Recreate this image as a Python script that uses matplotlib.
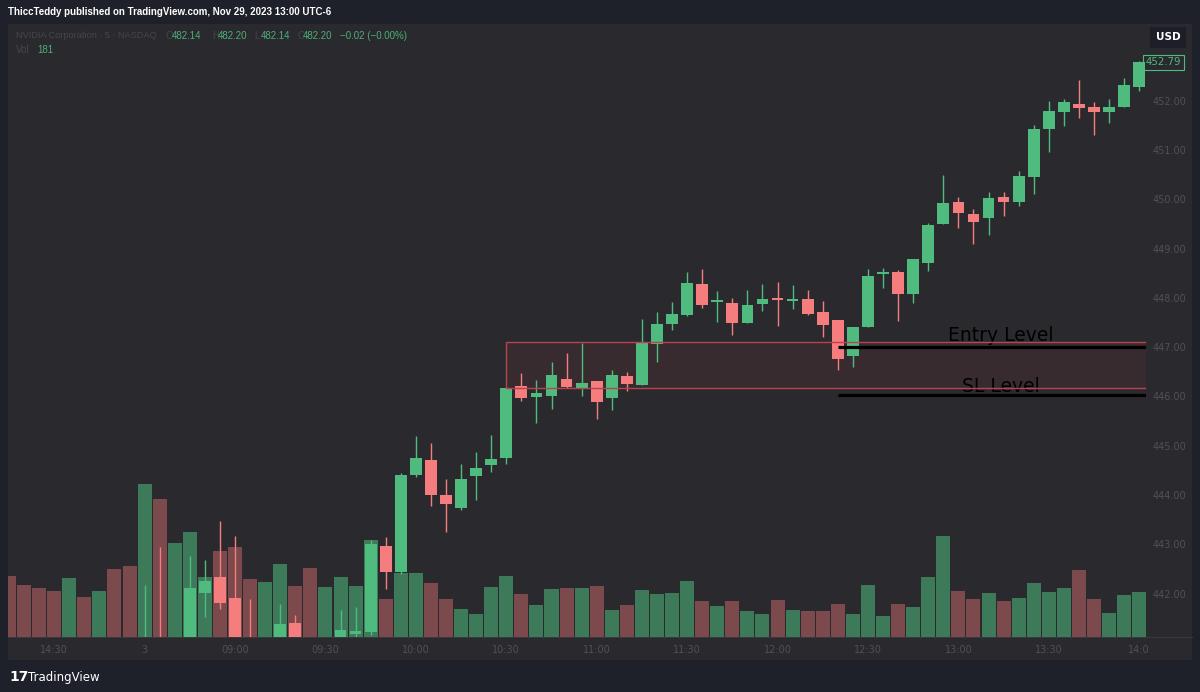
import matplotlib
matplotlib.use("Agg")
import matplotlib.pyplot as plt
from matplotlib.patches import Rectangle
import matplotlib.transforms as mtransforms

# 5 min NVDA bars (bars 0-11 mostly sit below the visible range)
open_ = [440.2, 440.0, 439.8, 439.6, 439.4, 439.8, 439.5, 439.8, 439.4, 439.6,
         440.8, 440.4, 440.9, 442.01, 442.34, 441.90, 440.9, 440.6, 440.9, 441.41,
         440.9, 440.7, 440.95, 441.18, 441.22, 442.97, 442.43, 444.41, 444.72, 444.01,
         443.74, 444.39, 444.60, 444.75, 446.21, 445.99, 446.02, 446.36, 446.16, 446.31,
         445.97, 446.41, 446.24, 447.07, 447.48, 447.65, 448.29, 447.92, 447.89, 447.50,
         447.88, 447.99, 447.94, 447.98, 447.72, 447.56, 446.82, 447.42, 448.49, 448.52,
         448.08, 448.72, 449.50, 449.95, 449.71, 449.62, 450.06, 449.95, 450.46, 451.44,
         451.78, 451.94, 451.87, 451.77, 451.87, 452.29]
high = [440.4, 440.2, 440.0, 439.8, 439.9, 439.9, 439.9, 439.9, 439.6, 442.18,
        442.95, 441.0, 442.77, 442.68, 443.47, 443.17, 441.88, 441.0, 441.78, 441.56,
        441.05, 441.0, 441.67, 441.72, 443.08, 443.15, 444.45, 445.19, 445.06, 444.33,
        444.63, 444.87, 445.22, 446.20, 446.48, 446.34, 446.71, 446.89, 447.09, 446.32,
        446.53, 446.49, 447.57, 447.71, 447.91, 448.53, 448.59, 448.15, 448.00, 448.17,
        448.29, 448.32, 448.27, 448.17, 447.93, 447.56, 447.42, 448.59, 448.61, 448.57,
        448.79, 449.52, 450.50, 450.06, 449.80, 450.15, 450.15, 450.57, 451.51, 451.99,
        452.05, 452.43, 451.97, 452.05, 452.46, 452.81]
low = [439.9, 439.7, 439.5, 439.3, 439.3, 439.4, 439.4, 439.3, 439.0, 439.4,
       440.2, 440.1, 440.8, 441.52, 441.69, 440.6, 440.4, 440.3, 440.7, 440.7,
       440.5, 440.5, 440.8, 441.0, 441.15, 442.10, 442.40, 444.37, 443.77, 443.24,
       443.70, 443.89, 444.46, 444.63, 445.91, 445.46, 445.75, 446.17, 446.00, 445.55,
       445.73, 446.12, 446.24, 446.71, 447.35, 447.64, 447.79, 447.52, 447.25, 447.50,
       447.73, 447.44, 447.78, 447.65, 447.21, 446.53, 446.60, 447.42, 448.20, 447.54,
       447.90, 448.54, 449.50, 449.43, 449.09, 449.28, 449.67, 449.86, 450.11, 450.97,
       451.49, 451.66, 451.30, 451.55, 451.87, 452.21]
close = [440.0, 439.8, 439.6, 439.4, 439.8, 439.5, 439.8, 439.4, 439.2, 440.8,
         440.4, 440.9, 442.12, 442.26, 441.80, 440.8, 440.6, 440.9, 441.38, 440.9,
         440.7, 440.95, 441.25, 441.23, 443.00, 442.44, 444.40, 444.75, 444.01, 443.81,
         444.32, 444.55, 444.74, 446.17, 445.97, 446.08, 446.43, 446.19, 446.27, 445.88,
         446.44, 446.26, 447.08, 447.48, 447.68, 448.31, 447.86, 447.95, 447.50, 447.86,
         447.98, 447.96, 447.97, 447.68, 447.46, 446.77, 447.42, 448.45, 448.52, 448.08,
         448.79, 449.48, 449.93, 449.72, 449.55, 450.04, 449.95, 450.47, 451.44, 451.80,
         451.97, 451.85, 451.77, 451.87, 452.32, 452.79]
volume = [6.1, 5.2, 4.9, 4.6, 5.9, 4.0, 4.6, 6.8, 7.1, 15.3,
          13.8, 9.4, 10.5, 6.0, 8.6, 9.0, 5.8, 5.5, 7.3, 5.1,
          6.9, 5.0, 6.0, 5.1, 9.7, 3.8, 6.4, 6.4, 5.4, 3.8,
          2.8, 2.3, 5.0, 6.1, 4.3, 3.2, 4.8, 4.9, 4.9, 5.1,
          2.7, 3.2, 4.7, 4.3, 4.4, 5.6, 3.6, 3.1, 3.6, 2.6,
          2.3, 3.7, 2.7, 2.6, 2.6, 3.3, 2.3, 5.2, 2.1, 3.3,
          3.0, 6.0, 10.1, 4.6, 3.8, 4.4, 3.6, 3.9, 5.4, 4.5,
          4.9, 6.7, 3.8, 2.4, 4.2, 4.5]

tick_bars = [3, 9, 15, 21, 27, 33, 39, 45, 51, 57, 63, 69, 75]
tick_text = ['14:30', '3', '09:00', '09:30', '10:00', '10:30', '11:00',
             '11:30', '12:00', '12:30', '13:00', '13:30', '14:0']
price_ticks = [442, 443, 444, 445, 446, 447, 448, 449, 450, 451, 452]

# drawings on the chart
zone_start, zone_top, zone_bottom = 33, 447.10, 446.18
line_start = 55
entry_level, sl_level = 447.00, 446.03

navy = '#1e2129'
panel_bg = '#2a2a2e'
dim = '#505056'
up_c, down_c = '#4fbb7e', '#f57d7e'
vol_up, vol_down = '#3d7a59', '#7c4a4c'

fig = plt.figure(figsize=(12, 6.92), dpi=100, facecolor=navy)
W, H = 1200, 692

def fx(px):
    return px / W

def fy(py):
    return 1 - py / H

fig.patches.append(Rectangle((fx(8), fy(660)), fx(1192 - 8), (660 - 24) / H,
                             transform=fig.transFigure, facecolor=panel_bg, zorder=-5))
fig.add_artist(plt.Line2D([fx(8), fx(1192)], [fy(637), fy(637)], transform=fig.transFigure,
                          color='#38383d', lw=0.8, zorder=-4))

rect = [fx(8), fy(637), fx(1146 - 8), (637 - 24) / H]
ax_vol = fig.add_axes(rect)
ax_vol.set_facecolor('none')
ax_vol.axis('off')
ax = fig.add_axes(rect, sharex=ax_vol)
ax.set_facecolor('none')

x = list(range(len(close)))
up = [c >= o for o, c in zip(open_, close)]

ax_vol.bar(x, volume, width=0.93, color=[vol_up if u else vol_down for u in up], zorder=1)
ax_vol.set_ylim(0, 61.3)

colors = [up_c if u else down_c for u in up]
ax.vlines(x, low, high, colors=colors, lw=1, zorder=3)
bottoms = [min(o, c) for o, c in zip(open_, close)]
heights = [max(abs(c - o), 0.025) for o, c in zip(open_, close)]
ax.bar(x, heights, bottom=bottoms, width=0.78, color=colors, zorder=4)

ax.add_patch(Rectangle((zone_start, zone_bottom), 60, zone_top - zone_bottom,
                       facecolor=(0.55, 0.2, 0.25, 0.14), edgecolor='none', zorder=2))
ax.add_patch(Rectangle((zone_start, zone_bottom), 60, zone_top - zone_bottom,
                       facecolor='none', edgecolor='#b8434f', lw=1, zorder=6))

ax.hlines([entry_level, sl_level], line_start, 80, colors='black', lw=2.3, zorder=5)
ax.text(65.8, 447.13, 'Entry Level', color='black', fontsize=13.5, ha='center',
        va='baseline', zorder=5)
ax.text(65.8, 446.085, 'SL Level', color='black', fontsize=13.5, ha='center',
        va='baseline', zorder=5)

ax.set_xlim(-0.066, 75.45)
ax.set_ylim(441.117, 453.563)
for s in ax.spines.values():
    s.set_visible(False)
ax.yaxis.tick_right()
ax.set_yticks(price_ticks)
ax.set_yticklabels([f'{p:.2f}' for p in price_ticks])
ax.set_xticks(tick_bars)
ax.set_xticklabels(tick_text)
ax.tick_params(axis='both', length=0, labelcolor=dim, labelsize=7)
ax.tick_params(axis='y', pad=5)
ax.tick_params(axis='x', pad=6)

# last price tag
tag_tr = mtransforms.blended_transform_factory(ax.transAxes, ax.transData)
ax.text(1.0, close[-1], f'{close[-1]:.2f}', transform=tag_tr, color=up_c, fontsize=7.3,
        ha='left', va='center', clip_on=False,
        bbox=dict(boxstyle='square,pad=0.25', facecolor=panel_bg, edgecolor=up_c, lw=0.8))

# USD box
fig.text(fx(1168), fy(37.5), 'USD', color='white', fontsize=7.5, fontweight='bold',
         ha='center', va='center',
         bbox=dict(boxstyle='square,pad=0.5', facecolor='#1c1f28', edgecolor='none'))

# header and legend
fig.text(fx(8), fy(12), 'ThiccTeddy published on TradingView.com, Nov 29, 2023 13:00 UTC-6',
         color='white', fontsize=7, fontweight='bold', family='Liberation Sans',
         ha='left', va='center')
leg_dim = '#45454a'
leg_green = '#4caf79'
leg_font = dict(fontsize=7, family='Liberation Sans', ha='left', va='center')
fig.text(fx(16), fy(36), 'NVIDIA Corporation · 5 · NASDAQ', color=leg_dim,
         fontsize=6.6, family='Liberation Sans', ha='left', va='center')
ohlc_pos = [166.5, 213, 255.5, 298]
ohlc_lab = ['O', 'H', 'L', 'C']
ohlc_val = ['482.14', '482.20', '482.14', '482.20']
for px, lab, val in zip(ohlc_pos, ohlc_lab, ohlc_val):
    fig.text(fx(px - 1), fy(36), lab, color=leg_dim, **leg_font)
    fig.text(fx(px + 5), fy(36), val, color=leg_green, **leg_font)
fig.text(fx(340), fy(36), '−0.02 (−0.00%)', color=leg_green, **leg_font)
fig.text(fx(16), fy(50), 'Vol', color=leg_dim, **leg_font)
fig.text(fx(37), fy(50), '181', color=leg_green, **leg_font)

# footer
fig.text(fx(9), fy(677), '17', color='white', fontsize=10, fontweight='bold',
         ha='left', va='center')
fig.text(fx(28), fy(677), 'TradingView', color='white', fontsize=8.5, ha='left', va='center')

fig.savefig('out.png', dpi=100, facecolor=navy)
